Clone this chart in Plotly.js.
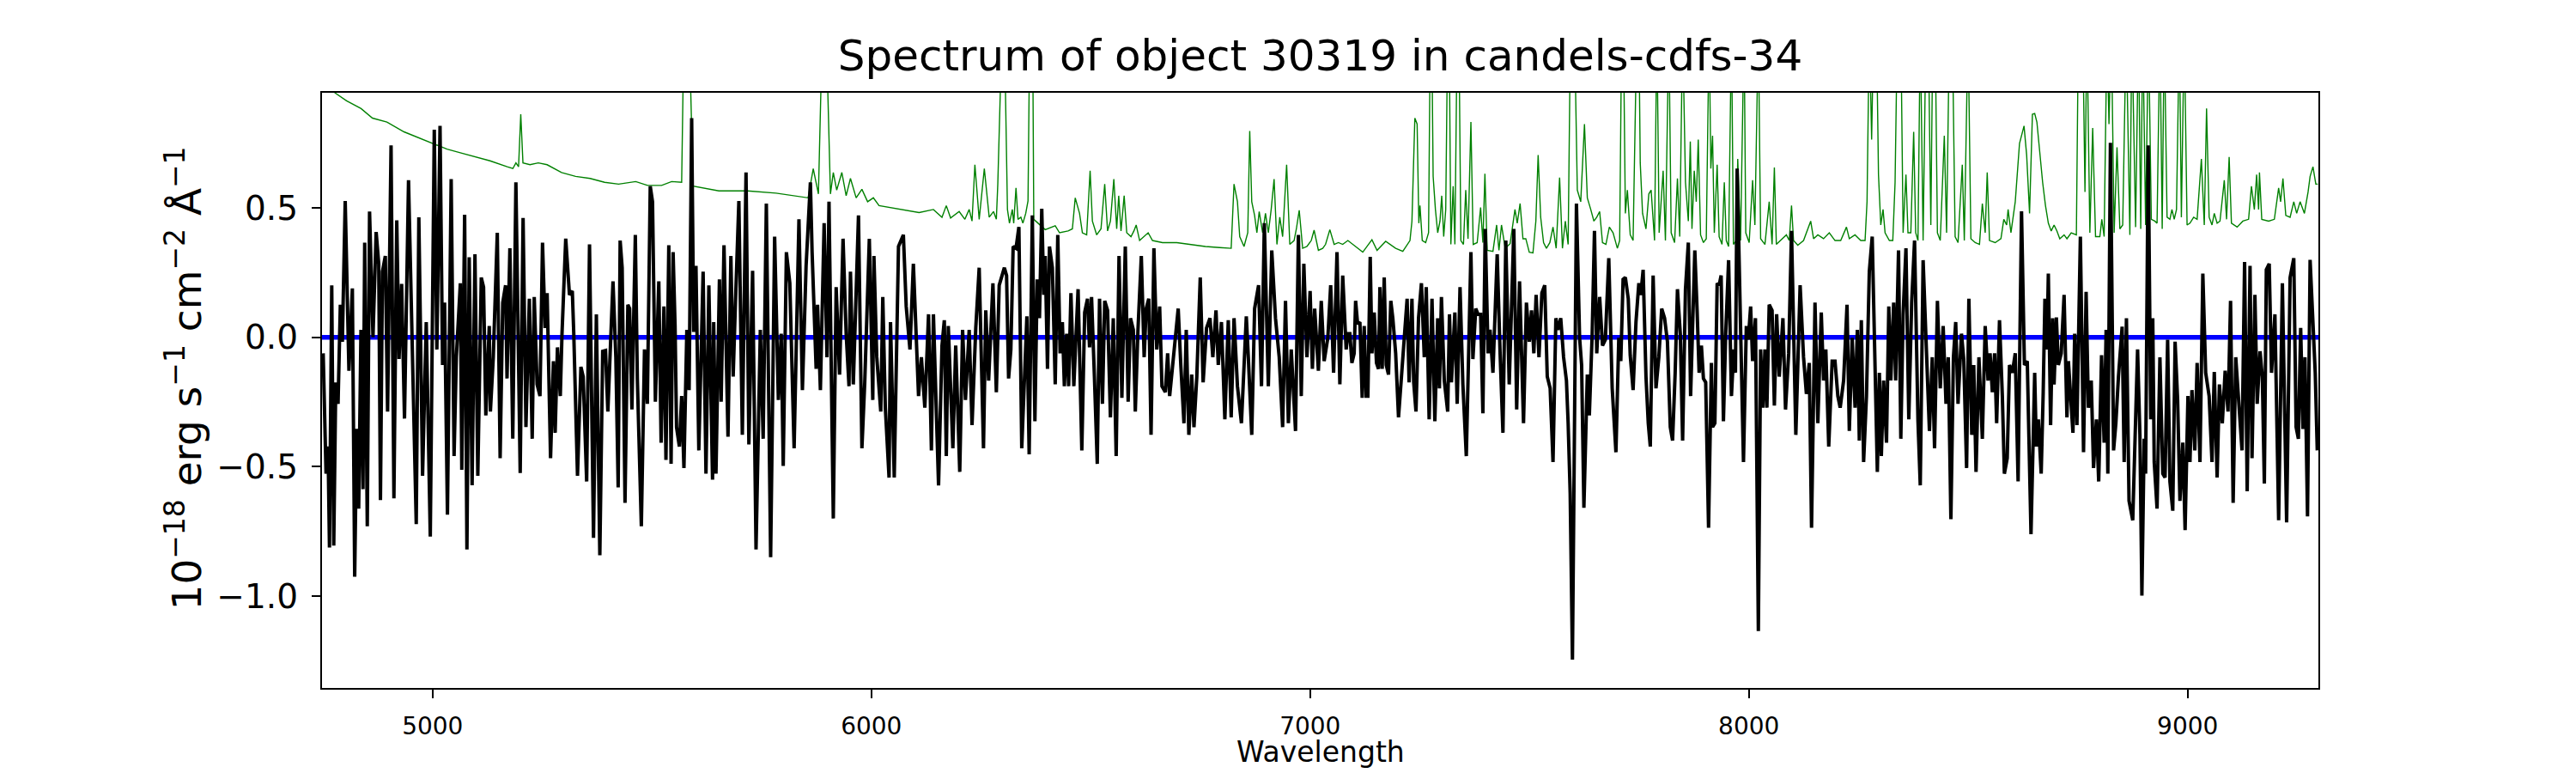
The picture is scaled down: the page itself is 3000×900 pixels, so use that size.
<!DOCTYPE html>
<html>
<head>
<meta charset="utf-8">
<script src="https://cdn.plot.ly/plotly-3.0.1.min.js"></script>
<style>html,body{margin:0;padding:0;background:#fff;}</style>
</head>
<body>
<div id="chart" style="width:3000px;height:900px;"></div>
<script>
// ---- Data ----
const titleText = "Spectrum of object 30319 in candels-cdfs-34";
const xLabel = "Wavelength";
const yLabel = "10<sup>\u221218</sup> erg s<sup>\u22121</sup> cm<sup>\u22122</sup> \u00c5<sup>\u22121</sup>";

const xTickVals = [5000, 6000, 7000, 8000, 9000];
const xTickText = ["5000", "6000", "7000", "8000", "9000"];
const yTickVals = [-1.0, -0.5, 0.0, 0.5];
const yTickText = ["\u22121.0", "\u22120.5", "0.0", "0.5"];

// black: flux spectrum
const fluxWave = [
4750.7,4757.2,4761.8,4765.0,4770.2,4774.8,4779.4,4784.6,4789.8,4794.4,4800.9,4809.4,4817.2,4822.5,4827.0,4831.6,4836.8,4841.4,4845.3,4851.2,4856.4,4864.2,4871.4,4877.3,4881.2,4885.8,4892.3,4897.5,4905.4,4911.9,4918.4,4923.6,4929.5,4936.0,4945.2,4954.3,4962.8,4968.7,4977.2,4985.6,4994.8,5003.9,5009.8,5017.0,5022.8,5027.4,5033.9,5042.4,5049.0,5054.2,5063.3,5066.6,5073.1,5078.3,5083.5,5090.1,5096.6,5103.1,5111.0,5116.2,5121.4,5129.2,5131.8,5138.4,5147.5,5154.0,5159.9,5166.4,5169.7,5176.2,5182.8,5189.9,5199.7,5206.3,5212.8,5220.6,5227.1,5231.7,5238.2,5244.8,5250.6,5256.5,5261.1,5268.9,5275.4,5279.4,5284.6,5291.1,5295.0,5303.5,5312.0,5318.5,5321.8,5330.3,5338.1,5343.3,5351.2,5357.7,5366.8,5373.3,5381.2,5387.7,5394.2,5399.5,5404.7,5411.2,5417.7,5423.0,5427.5,5432.1,5438.6,5445.1,5449.1,5454.3,5462.1,5466.7,5475.8,5483.0,5489.5,5496.1,5501.3,5507.8,5515.6,5520.9,
5527.3,5531.9,5538.4,5543.6,5548.2,5552.7,5556.0,5562.5,5567.7,5572.9,5579.5,5584.7,5590.5,5595.1,5600.3,5606.8,5616.6,5623.1,5629.7,5638.1,5640.7,5645.9,5653.8,5657.7,5664.2,5673.3,5679.9,5685.1,5690.3,5698.1,5706.0,5714.4,5720.9,5729.4,5737.2,5747.0,5753.5,5760.7,5770.5,5779.6,5788.1,5794.6,5799.2,5806.4,5814.2,5824.0,5835.0,5842.9,5851.3,5861.1,5865.0,5874.2,5877.4,5883.9,5892.4,5898.9,5903.5,5913.3,5919.8,5927.6,5935.5,5942.6,5949.1,5952.4,5958.9,5970.7,5978.5,5985.0,5995.4,6003.3,6005.9,6012.4,6021.5,6026.1,6031.9,6040.4,6043.7,6052.2,6061.9,6073.0,6079.5,6088.0,6095.8,6107.6,6114.1,6121.9,6130.4,6136.9,6141.5,6153.2,6161.0,6166.3,6170.8,6175.4,6185.8,6192.3,6201.5,6208.0,6214.5,6223.0,6229.5,6238.0,6245.8,6255.6,6260.8,6267.3,6277.1,6284.9,6291.4,6303.2,
6308.2,6312.8,6318.0,6323.2,6329.8,6336.3,6342.8,6349.3,6354.5,6359.7,6366.9,6372.8,6378.0,6383.2,6388.4,6393.0,6396.3,6401.5,6406.0,6412.6,6419.1,6424.9,6430.2,6435.4,6439.9,6445.2,6449.7,6454.9,6461.5,6471.2,6479.7,6486.2,6492.7,6497.3,6501.9,6508.4,6514.9,6520.1,6526.7,6531.9,6538.4,6544.9,6551.4,6558.0,6564.5,6571.0,6578.8,6585.3,6590.6,6597.1,6601.6,6607.5,6615.3,6621.8,6626.4,6632.3,6637.5,6644.0,6650.5,6657.1,6662.3,6670.1,6675.3,6679.9,6689.7,6699.4,6705.3,6712.5,6717.7,6723.6,6730.1,6735.3,6741.8,6749.6,6756.2,6764.0,6771.8,6778.3,6785.5,6790.7,6797.9,6805.7,6813.5,6820.1,6826.6,6834.4,6843.5,6854.6,6859.2,6867.0,6873.5,6882.6,6889.2,6895.7,6904.8,6912.6,6921.1,6929.6,6937.4,6943.9,6950.5,6957.0,6966.8,6973.3,6979.8,6985.7,6992.8,7000.0,7005.2,7010.4,7018.9,7025.4,7032.0,7040.4,7046.9,7053.5,7061.3,7067.8,7074.3,7082.2,7086.1,
7090.7,7095.2,7100.4,7103.7,7108.3,7113.5,7118.7,7123.3,7127.8,7131.7,7137.0,7140.9,7146.1,7151.3,7155.9,7159.1,7164.3,7168.9,7173.5,7178.7,7183.9,7188.5,7195.0,7201.5,7208.0,7214.5,7221.1,7225.6,7232.1,7236.1,7241.3,7247.1,7253.7,7260.2,7264.7,7271.3,7277.8,7284.3,7290.8,7294.7,7299.3,7305.8,7313.6,7317.6,7322.1,7329.9,7335.2,7341.7,7348.2,7356.0,7366.5,7371.0,7377.5,7382.8,7388.6,7393.8,7399.1,7405.6,7410.1,7416.7,7426.4,7433.0,7439.5,7446.0,7453.8,7464.3,7470.8,7477.3,7486.4,7493.0,7499.5,7504.7,7509.9,7515.1,7521.6,7528.2,7534.7,7540.5,7547.1,7553.6,7560.1,7564.7,7571.2,7577.7,7584.2,7588.1,7592.7,7597.9,7602.5,7607.0,7614.2,7618.8,7624.0,7631.8,7636.4,7642.9,7648.1,7653.3,7659.9,7666.4,7672.9,7680.7,7688.5,7697.0,7703.5,7708.1,7713.3,7718.5,7725.1,7729.6,7736.1,7742.7,7749.2,7753.7,7759.0,7765.5,7770.7,7775.3,7781.8,7788.3,7794.8,7801.3,7807.9,7814.4,7820.9,7826.1,7832.0,7837.2,7843.7,7849.0,7855.5,7862.0,7867.2,
7876.8,7882.0,7886.6,7891.8,7896.4,7901.6,7908.1,7914.6,7917.2,7922.5,7927.7,7932.2,7936.8,7942.0,7947.2,7953.8,7960.3,7965.5,7969.4,7973.3,7981.1,7987.7,7994.2,7998.7,8004.0,8008.5,8015.0,8021.6,8026.8,8032.0,8036.6,8041.1,8046.3,8052.9,8058.1,8063.3,8069.2,8077.6,8083.5,8090.7,8097.2,8102.4,8107.0,8116.8,8124.6,8131.1,8137.6,8142.8,8150.7,8157.2,8165.0,8170.2,8175.4,8182.0,8189.8,8196.3,8202.8,8208.1,8215.9,8223.7,8228.9,8235.4,8242.0,8247.2,8251.7,8256.3,8261.5,8268.0,8274.5,8281.1,8287.6,8292.8,8297.4,8301.9,8307.1,8313.7,8318.9,8323.5,8330.0,8334.5,8341.1,8346.3,8351.5,8358.0,8364.5,8371.0,8377.6,8385.4,8390.6,8397.1,8403.6,8411.5,8418.0,8423.2,8429.7,8436.2,8442.8,8449.3,8454.5,8460.4,8466.2,8471.4,8476.7,8484.5,8489.7,8496.2,8501.4,8508.0,8512.5,8517.7,8524.3,8532.1,8538.6,8545.1,8549.7,8554.9,8560.1,8564.7,8571.2,8577.7,8582.3,8588.8,8594.0,8600.5,8607.1,8613.6,8621.4,8628.0,8634.5,8643.0,8651.4,
8655.1,8659.7,8666.2,8670.8,8674.7,8679.3,8682.5,8687.7,8692.3,8695.6,8700.8,8705.3,8711.9,8718.4,8724.9,8728.2,8733.4,8738.6,8742.5,8747.7,8755.5,8762.7,8768.6,8773.8,8780.3,8785.5,8792.1,8797.3,8803.8,8809.7,8814.2,8818.1,8824.0,8831.2,8836.4,8842.3,8850.7,8855.3,8860.5,8866.4,8874.9,8881.4,8885.9,8891.2,8895.7,8900.9,8904.2,8910.1,8915.9,8920.5,8923.8,8930.3,8936.8,8943.3,8948.5,8954.4,8959.6,8966.1,8971.4,8977.2,8982.4,8989.0,8994.2,9000.7,9005.3,9009.8,9016.3,9021.6,9028.1,9034.6,9041.1,9049.0,9055.5,9060.7,9067.2,9072.4,9079.0,9085.5,9092.0,9097.8,9103.7,9109.6,9116.1,9123.9,9129.8,9135.7,9142.2,9146.7,9153.3,9158.5,9165.0,9170.2,9174.8,9179.3,9185.9,9191.1,9198.9,9207.4,9215.9,9225.6,9233.5,9241.9,9247.2,9252.4,9257.6,9262.8,9267.4,9273.2,9279.1,9285.6,9290.8,9295.4
];
const fluxValue = [
-0.062,-0.527,-0.422,-0.812,0.201,-0.805,-0.174,-0.257,0.126,-0.017,0.527,-0.129,0.189,-0.925,-0.354,-0.662,0.029,-0.587,0.366,-0.730,0.486,0.0,0.407,0.284,-0.629,0.254,0.314,-0.287,0.742,-0.622,0.452,-0.084,0.206,-0.314,0.607,-0.077,-0.722,0.464,-0.535,0.059,-0.770,0.802,-0.047,0.817,-0.107,0.134,-0.685,0.611,-0.459,-0.077,0.209,-0.512,0.474,-0.820,0.309,-0.572,0.321,-0.535,0.231,0.194,-0.302,0.044,-0.287,-0.077,0.404,-0.467,0.134,0.201,-0.159,0.344,-0.392,0.599,-0.524,0.461,-0.347,0.149,-0.392,0.156,-0.182,-0.227,0.366,0.036,0.171,-0.467,-0.092,-0.369,-0.039,-0.227,0.014,0.381,0.164,0.179,0.014,-0.535,-0.114,-0.152,-0.557,0.359,-0.775,0.089,-0.842,-0.054,-0.051,-0.287,-0.092,0.216,-0.077,-0.580,0.374,0.269,-0.640,0.126,0.111,-0.279,0.396,-0.159,-0.730,-0.047,-0.257,0.584,0.524,-0.249,0.216,-0.407,
0.119,-0.474,0.356,-0.489,0.329,0.044,-0.347,-0.422,-0.227,-0.505,0.029,-0.204,0.847,0.021,0.276,-0.437,0.254,-0.527,0.201,-0.550,0.059,-0.527,0.224,-0.249,0.356,-0.384,0.314,-0.152,0.134,0.527,-0.377,0.637,-0.414,0.257,-0.820,0.029,-0.392,0.517,-0.850,0.389,-0.242,0.014,-0.497,0.329,0.209,-0.429,0.456,-0.204,0.276,0.599,0.329,-0.122,0.126,-0.204,0.441,-0.077,0.524,-0.700,0.194,-0.144,0.381,0.014,-0.189,0.254,-0.182,0.471,-0.429,-0.174,0.381,-0.242,0.314,-0.077,-0.287,0.156,-0.272,-0.542,0.059,-0.542,0.351,0.396,0.119,-0.047,0.284,-0.227,-0.077,-0.272,0.089,-0.437,0.089,-0.572,-0.032,0.066,-0.459,0.044,-0.429,-0.032,-0.520,0.029,-0.242,0.029,-0.339,0.036,0.269,-0.429,0.104,-0.167,0.209,-0.212,0.201,0.269,
0.239,-0.159,-0.047,0.351,0.344,0.426,-0.429,-0.182,0.081,-0.452,0.471,-0.324,0.224,0.074,0.497,0.164,0.314,-0.122,0.351,0.269,-0.182,0.396,-0.062,0.059,-0.189,0.014,-0.189,0.171,-0.189,0.186,-0.437,0.096,0.149,-0.039,0.156,-0.152,-0.489,0.149,-0.257,0.141,0.104,-0.309,0.074,-0.459,0.314,-0.234,0.351,-0.249,0.074,0.029,-0.287,0.021,0.314,-0.077,0.111,0.149,-0.377,0.344,-0.047,0.119,-0.189,-0.212,-0.062,-0.227,-0.047,0.111,-0.107,-0.332,0.029,-0.377,-0.144,-0.347,-0.152,0.231,-0.174,0.036,0.074,-0.077,0.104,-0.107,0.059,-0.317,0.066,-0.309,0.074,-0.189,-0.332,0.081,-0.077,-0.377,0.111,0.201,-0.189,0.441,-0.189,0.336,0.074,-0.077,-0.347,0.141,-0.332,-0.047,-0.362,0.396,-0.227,0.284,-0.077,0.179,-0.122,0.111,-0.129,0.141,-0.092,-0.002,0.201,-0.137,0.329,-0.182,0.239,-0.047,0.014,
0.014,-0.099,-0.062,0.141,0.051,0.059,-0.234,0.044,-0.227,-0.227,0.311,-0.062,0.096,-0.099,-0.122,0.194,-0.122,0.231,-0.107,-0.144,0.141,0.074,-0.062,-0.309,-0.167,0.014,0.149,-0.174,0.149,-0.174,-0.287,0.074,0.209,-0.077,0.194,-0.317,0.149,-0.324,0.074,-0.197,0.156,-0.167,-0.287,0.089,-0.174,0.096,-0.257,0.194,-0.182,-0.459,0.329,-0.084,0.111,0.089,0.089,-0.294,0.419,-0.062,0.029,-0.137,0.321,-0.062,-0.369,0.374,-0.182,0.419,-0.279,0.216,-0.332,0.134,-0.017,0.104,-0.062,0.164,-0.077,0.171,0.201,-0.152,-0.197,-0.482,0.074,0.029,0.074,-0.077,-0.167,-0.332,-0.602,-1.245,-0.227,0.517,-0.002,-0.107,-0.659,-0.144,-0.302,0.014,0.411,-0.062,0.156,-0.032,-0.009,0.306,-0.197,-0.444,-0.002,-0.092,0.224,0.231,0.149,-0.069,-0.204,0.059,0.209,0.164,0.261,-0.152,-0.332,-0.422,0.239,-0.197,-0.077,0.111,0.074,-0.017,-0.347,-0.399,-0.137,0.186,0.014,-0.399,0.186,0.366,-0.227,
0.336,0.104,-0.137,-0.032,-0.159,-0.174,-0.736,-0.099,-0.347,-0.332,0.209,0.201,0.239,-0.324,0.014,0.298,-0.227,-0.047,-0.137,0.652,0.074,-0.482,0.044,-0.009,0.119,-0.092,0.074,-1.135,-0.047,-0.272,-0.047,-0.272,0.126,0.104,-0.264,0.089,-0.152,0.074,-0.279,-0.062,0.411,-0.062,-0.377,0.201,-0.077,-0.219,-0.099,-0.736,0.134,-0.332,0.096,-0.167,-0.047,-0.422,-0.092,-0.092,-0.227,-0.272,-0.167,0.126,-0.362,-0.002,-0.272,0.029,-0.399,0.066,-0.482,-0.227,0.254,0.389,-0.137,-0.520,-0.137,-0.459,-0.167,-0.407,0.119,-0.167,0.134,-0.167,0.336,-0.392,0.089,0.344,-0.317,0.134,0.374,-0.324,-0.572,0.298,-0.002,-0.362,-0.077,-0.429,0.141,-0.197,0.044,-0.257,-0.077,-0.703,-0.077,0.059,-0.257,0.014,-0.084,-0.505,0.149,-0.377,-0.107,-0.520,-0.077,-0.392,0.044,-0.167,-0.062,-0.212,-0.062,-0.332,0.066,-0.227,-0.527,-0.467,-0.107,-0.137,-0.062,-0.557,0.487,-0.107,-0.092,-0.761,-0.137,
-0.422,-0.317,-0.527,-0.212,0.149,-0.047,0.246,-0.339,0.074,-0.182,0.077,-0.107,-0.062,0.164,-0.309,-0.092,-0.242,-0.369,0.014,-0.339,0.389,-0.444,0.176,-0.272,-0.167,-0.505,-0.317,-0.557,-0.069,-0.407,0.029,-0.527,0.752,-0.437,-0.332,-0.152,0.041,-0.482,0.074,-0.632,-0.707,-0.332,-0.047,-0.377,-0.998,-0.392,-0.527,0.742,-0.317,0.074,-0.482,-0.662,-0.077,-0.527,-0.542,-0.009,-0.557,-0.670,-0.017,-0.242,-0.632,-0.407,-0.745,-0.227,-0.482,-0.204,-0.437,-0.099,-0.482,0.246,-0.137,-0.227,-0.482,-0.134,-0.542,-0.182,-0.332,-0.129,-0.287,0.141,-0.640,-0.077,-0.257,-0.437,0.291,-0.595,0.276,-0.467,0.164,-0.257,-0.054,-0.152,-0.565,0.261,0.284,-0.137,0.089,-0.707,0.209,-0.715,0.231,0.306,-0.347,-0.392,0.036,-0.354,-0.077,-0.692,0.299,0.089,-0.137,-0.437
];

// green: error / sky spectrum
const errWave = [
4748,4765,4778,4804,4837,4863,4896,4935,4967,5000,5033,5065,5098,5131,5170,5183,5190,5196,5201,5206,5222,5241,5261,5277,5294,5326,5359,5392,5424,5463,5490,5522,
5544.9,5567.7,5572.9,5584.7,5593.8,5652.5,5717.7,5782.9,5855.9,5867.6,5879.4,5888.5,5897.0,5906.8,5913.3,5921.1,5932.8,5942.6,5952.4,5965.4,5978.5,5991.5,6004.6,6017.6,6043.7,6076.3,6108.9,6141.5,6161.0,6170.8,6180.6,6200.2,6213.2,6223.0,6229.5,6236.0,6245.8,6257.5,6268.6,6278.4,6284.9,6288.2,6298.0,6303.2,
6310.2,6314.8,6321.3,6324.5,6329.7,6334.3,6340.8,6345.4,6351.9,6357.1,6361.0,6367.6,6370.2,6380.0,6396.3,6419.1,6428.9,6448.4,6458.2,6464.7,6474.5,6481.0,6490.8,6498.6,6503.8,6513.6,6523.4,6531.9,6538.4,6544.9,6552.7,6559.2,6563.8,6569.0,6576.2,6582.1,6591.8,6598.4,6603.6,6611.4,6630.9,6640.8,6663.6,6696.2,6728.8,6761.4,6794.0,6820.1,6826.6,6834.4,6839.6,6849.4,6857.9,6862.4,6867.0,6873.5,6878.7,6884.0,6891.8,6898.3,6904.8,6911.3,6917.9,6924.4,6930.9,6937.4,6946.5,6953.7,6963.5,6968.7,6975.2,6983.0,6992.8,7002.6,7009.1,7018.9,7028.7,7035.2,7045.0,7054.8,7064.6,7074.3,7086.1,
7120.0,7140.9,7152.6,7172.2,7195.0,7211.3,7227.6,7232.1,7238.7,7243.9,7247.8,7250.4,7255.6,7263.4,7270.0,7273.9,7277.1,7280.4,7285.6,7290.8,7296.0,7300.0,7304.5,7309.1,7313.6,7316.9,7320.8,7326.0,7330.0,7335.2,7339.1,7343.6,7349.5,7354.7,7359.9,7366.5,7371.7,7380.8,7388.6,7393.8,7398.4,7403.6,7416.7,7425.1,7430.4,7436.2,7444.7,7455.8,7466.9,7472.1,7478.6,7485.1,7491.6,7499.5,7507.9,7514.5,7519.7,7525.5,7532.1,7538.6,7546.4,7553.6,7560.8,7568.6,7575.1,7581.6,7588.1,7593.4,7602.5,7609.0,7616.8,7625.3,7631.8,7639.6,7646.8,7653.3,7659.9,7666.4,7674.2,7682.0,7690.5,7700.3,7705.5,7710.1,7714.0,7718.5,7723.1,7729.6,7736.1,7744.6,7749.2,7752.4,7757.7,7765.5,7772.0,7777.2,7785.0,7790.3,7795.5,7804.6,7809.8,7817.6,7822.9,7830.7,7837.2,7842.4,7849.0,7855.5,7862.0,7866.5,
7870.3,7875.5,7880.1,7884.6,7889.9,7896.4,7902.9,7909.4,7913.3,7917.2,7921.2,7927.7,7932.2,7938.8,7944.0,7948.5,7953.8,7960.3,7964.8,7971.4,7974.6,7981.1,7989.0,7992.9,8000.7,8008.5,8013.7,8021.6,8026.8,8036.6,8046.3,8052.9,8058.1,8062.6,8072.4,8085.5,8092.0,8097.2,8101.8,8111.5,8124.6,8134.4,8140.9,8147.4,8157.2,8170.2,8183.3,8196.3,8209.3,8222.4,8228.9,8241.9,8255.0,8264.8,8269.3,8274.5,8279.8,8284.3,8290.8,8295.4,8300.6,8305.8,8310.4,8320.2,8328.0,8333.2,8338.4,8346.3,8351.5,8358.0,8362.6,8369.1,8375.6,8380.2,8385.4,8390.6,8397.1,8403.6,8408.8,8414.7,8419.3,8424.5,8429.7,8436.2,8445.4,8450.6,8457.1,8463.6,8470.1,8476.7,8486.4,8491.0,8499.5,8506.0,8515.8,8525.6,8532.1,8538.6,8543.2,8548.4,8561.4,8574.5,8581.0,8587.5,8590.8,8597.3,8607.1,8616.8,8627.1,8633.1,8639.7,8646.2,8651.4,8656.4,
8663.0,8669.5,8676.0,8682.5,8689.0,8695.6,8702.1,8708.6,8718.4,8724.9,8734.7,8746.4,8751.0,8760.8,8766.0,8770.5,8777.1,8783.6,8790.1,8799.9,8804.4,8809.7,8816.2,8820.7,8826.0,8832.5,8839.0,8845.5,8852.0,8859.9,8868.3,8872.9,8881.4,8887.9,8893.1,8897.7,8904.2,8910.7,8917.2,8925.1,8930.3,8936.8,8942.0,8946.6,8953.1,8959.6,8964.2,8969.4,8974.6,8981.1,8985.7,8992.2,8998.7,9005.3,9013.7,9021.6,9031.3,9037.9,9043.1,9049.0,9055.5,9060.7,9067.2,9073.7,9083.5,9088.7,9094.6,9099.8,9112.8,9125.9,9138.9,9145.4,9152.0,9157.2,9161.7,9163.7,9168.9,9184.6,9197.6,9207.4,9211.9,9217.2,9223.7,9233.5,9241.9,9248.5,9256.3,9266.1,9274.5,9279.1,9285.6,9292.1,9296.7
];
const errValue = [
1.0,0.97,0.944,0.914,0.884,0.847,0.832,0.794,0.772,0.749,0.727,0.712,0.697,0.682,0.659,0.652,0.674,0.659,0.862,0.674,0.667,0.674,0.667,0.652,0.637,0.622,0.614,0.599,0.592,0.602,0.587,0.587,
0.602,0.599,1.2,1.2,0.584,0.566,0.566,0.557,0.539,0.652,0.554,1.2,1.2,0.554,0.637,0.569,0.637,0.547,0.614,0.539,0.572,0.524,0.539,0.509,0.502,0.491,0.482,0.494,0.464,0.509,0.461,0.486,0.456,0.494,0.449,0.667,0.456,0.652,0.464,0.486,0.456,0.592,1.2,1.2,
0.494,0.441,0.494,0.441,0.577,0.456,0.464,0.441,0.479,0.527,1.2,1.2,0.456,0.441,0.416,0.431,0.404,0.411,0.419,0.539,0.479,0.404,0.396,0.644,0.449,0.396,0.419,0.592,0.411,0.449,0.611,0.419,0.547,0.411,0.547,0.404,0.389,0.411,0.434,0.374,0.404,0.374,0.366,0.366,0.359,0.351,0.347,0.344,0.592,0.524,0.389,0.351,0.404,0.797,0.524,0.471,0.404,0.486,0.404,0.479,0.404,0.494,0.611,0.359,0.464,0.389,0.667,0.359,0.374,0.419,0.491,0.344,0.351,0.374,0.414,0.336,0.344,0.359,0.416,0.359,0.366,0.359,0.374,
0.329,0.377,0.336,0.371,0.344,0.332,0.374,0.449,0.847,0.824,0.441,0.509,0.374,0.366,0.404,1.2,1.2,0.622,0.494,0.404,0.449,0.547,0.389,0.494,1.2,1.2,0.359,0.584,0.359,1.2,1.2,0.374,0.359,0.569,0.381,0.832,0.359,0.366,0.502,0.366,0.632,0.336,0.332,0.434,0.336,0.434,0.344,0.362,0.494,0.441,0.517,0.381,0.381,0.329,0.326,0.449,0.704,0.464,0.366,0.344,0.366,0.426,0.344,0.617,0.344,0.449,0.359,1.2,1.2,0.569,0.524,0.824,0.539,0.494,0.449,0.464,0.486,0.366,0.359,0.426,0.404,0.344,0.374,1.2,1.2,0.479,0.569,0.396,0.374,1.2,1.2,0.674,0.479,0.419,0.554,0.569,0.374,1.2,0.404,0.644,0.374,1.2,0.404,0.366,0.614,0.389,1.2,0.599,0.449,0.757,
0.419,0.644,0.524,0.764,0.396,0.366,0.381,1.2,0.652,0.779,0.404,0.667,0.389,0.359,0.599,0.374,0.351,1.2,0.359,0.374,0.689,0.374,1.2,0.404,0.366,0.607,0.434,1.2,0.381,0.359,0.524,0.359,0.656,0.359,0.374,0.396,0.374,0.509,0.374,0.356,0.374,0.419,0.449,0.381,0.396,0.381,0.404,0.374,0.374,0.426,0.381,0.396,0.374,0.374,0.524,1.2,0.764,1.2,1.2,0.629,0.434,0.494,0.404,0.374,0.374,0.599,1.2,1.2,0.404,0.629,0.404,0.404,0.794,0.404,0.374,1.2,0.374,1.2,1.2,0.434,1.2,1.2,0.404,0.374,0.779,0.404,1.2,1.2,0.389,0.366,0.667,0.374,1.2,0.381,0.366,0.359,0.517,0.404,0.637,0.374,0.366,0.381,0.456,0.434,0.494,0.404,0.524,0.749,0.817,0.704,0.479,0.862,0.865,0.832,
0.704,0.599,0.509,0.441,0.411,0.434,0.411,0.381,0.396,0.381,0.404,0.396,1.2,1.2,0.562,1.2,0.404,0.809,0.389,0.389,0.456,0.389,1.2,0.824,1.2,0.404,0.734,0.419,0.434,1.2,0.396,1.2,0.426,1.2,0.419,1.2,0.434,1.2,0.456,0.449,0.441,1.2,0.419,1.2,0.464,0.456,0.494,0.456,0.494,1.2,0.464,1.2,0.434,0.441,0.464,0.456,0.689,0.434,0.884,0.464,0.434,0.479,0.441,0.449,0.607,0.456,0.697,0.441,0.426,0.449,0.456,0.584,0.494,0.629,0.494,0.637,0.456,0.449,0.456,0.577,0.524,0.614,0.471,0.464,0.524,0.479,0.524,0.479,0.562,0.622,0.659,0.592,0.592
];

// blue: zero line (model)
const zeroWave = [4748, 9298];
const zeroValue = [0, 0];

const xRange = [4748, 9298];
const yRange = [-1.355, 0.945];

// ---- Chart ----
const traces = [
  {x: errWave, y: errValue, type: 'scatter', mode: 'lines',
   line: {color: '#008000', width: 1.4}, hoverinfo: 'skip'},
  {x: zeroWave, y: zeroValue, type: 'scatter', mode: 'lines',
   line: {color: '#0000ff', width: 5.5}, hoverinfo: 'skip'},
  {x: fluxWave, y: fluxValue, type: 'scatter', mode: 'lines',
   line: {color: '#000000', width: 4}, hoverinfo: 'skip'}
];

const font = "DejaVu Sans, Liberation Sans, sans-serif";
const axisCommon = {
  showgrid: false, zeroline: false, showline: true, mirror: true,
  linecolor: '#000', linewidth: 2.2, ticks: 'outside', ticklen: 10,
  tickwidth: 2.2, tickcolor: '#000', ticklabelstandoff: 8
};

const layout = {
  width: 3000, height: 900,
  margin: {l: 375, r: 300, t: 108, b: 99, pad: 0},
  paper_bgcolor: '#fff', plot_bgcolor: '#fff',
  showlegend: false,
  font: {family: font, color: '#000'},
  title: {text: titleText, font: {family: font, size: 50, color: '#000'},
          x: 0.5, xref: 'paper', xanchor: 'center',
          y: 1 - 82 / 900, yref: 'container', yanchor: 'bottom'},
  xaxis: Object.assign({}, axisCommon, {
    range: xRange, tickmode: 'array', tickvals: xTickVals, ticktext: xTickText,
    tickfont: {family: font, size: 28, color: '#000'}
  }),
  yaxis: Object.assign({}, axisCommon, {
    range: yRange, tickmode: 'array', tickvals: yTickVals, ticktext: yTickText,
    tickfont: {family: font, size: 39, color: '#000'}
  }),
  annotations: [
    {text: xLabel, xref: 'paper', yref: 'paper', x: 0.5, y: 0,
     xanchor: 'center', yanchor: 'top', yshift: -53, showarrow: false,
     font: {family: font, size: 33, color: '#000'}},
    {text: yLabel, xref: 'paper', yref: 'paper', x: 0, y: 0.5,
     xanchor: 'center', yanchor: 'middle', xshift: -161, yshift: 14,
     textangle: -90, showarrow: false,
     font: {family: font, size: 47, color: '#000'}}
  ]
};

Plotly.newPlot('chart', traces, layout, {staticPlot: true, displayModeBar: false});
</script>
</body>
</html>
